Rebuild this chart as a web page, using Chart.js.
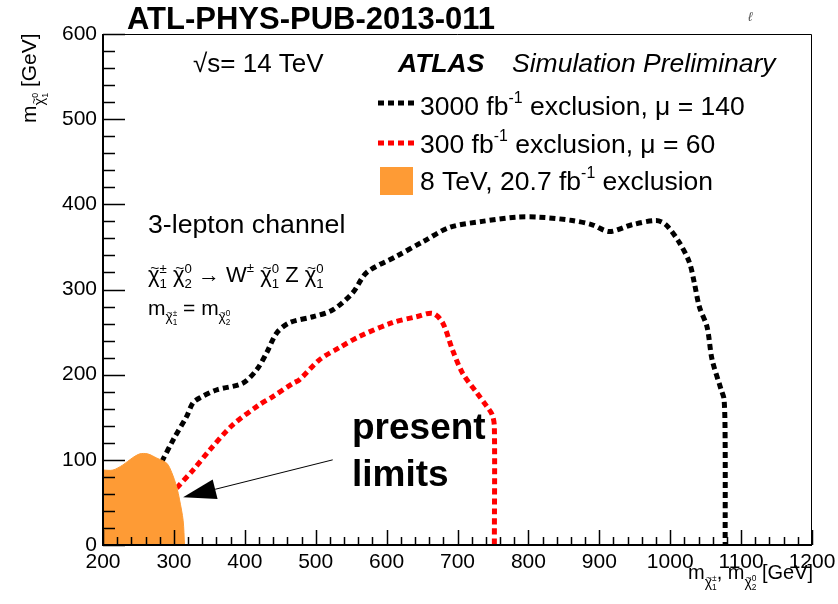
<!DOCTYPE html>
<html>
<head>
<meta charset="utf-8">
<script src="https://cdn.jsdelivr.net/npm/chart.js@4.4.1/dist/chart.umd.min.js"></script>
<style>
  body { margin: 0; background: #fff; }
  #wrap { width: 838px; height: 604px; }
</style>
</head>
<body>
<div id="wrap"><canvas id="limits" width="838" height="604"></canvas></div>
<script>
// 3000 fb-1 projected exclusion contour (mu = 140)
const hlX = [283, 300, 318, 327, 337, 360, 397, 417, 431, 445, 463, 496, 524, 552, 572, 614, 651, 689, 735, 783, 815, 862, 890, 914, 946, 980, 994, 1013, 1027, 1034, 1041, 1052, 1059, 1072, 1076, 1077.5, 1077.5];
const hlY = [98, 125, 151, 167, 173, 182, 190, 206, 226, 249, 261, 268, 276, 296, 320, 339, 356, 373, 380, 385, 385, 381, 376, 368, 376, 381, 376, 355, 332, 308, 280, 256, 218, 182, 171, 120, 0];

// 300 fb-1 projected exclusion contour (mu = 60)
const lhcX = [304, 327, 351, 383, 421, 439, 468, 477, 506, 534, 562, 608, 642, 665, 679, 693, 707, 727, 742, 749, 752, 752];
const lhcY = [67, 88, 112, 141, 165, 174, 190, 194, 218, 232, 245, 261, 268, 272, 261, 229, 202, 179, 162, 153, 139, 0];

// 8 TeV, 20.7 fb-1 excluded region
const runX = [200, 214, 228, 241, 252, 263, 276, 290, 297, 304, 308, 313, 315];
const runY = [88, 88, 94, 102, 107, 107, 102, 96, 85, 68, 53, 29, 0];

const xTicks = [200, 300, 400, 500, 600, 700, 800, 900, 1000, 1100, 1200];
const yTicks = [0, 100, 200, 300, 400, 500, 600];

const FAM = '"Liberation Sans", Arial, Helvetica, sans-serif';
const ORANGE = '#fe9b35';

function pts(xs, ys) {
    return xs.map((x, i) => ({ x: x, y: ys[i] }));
}

// draws a run of text pieces; a piece with keep:true does not advance x,
// so the next piece is stacked on top of / under it (sup + sub)
function drawRich(ctx, x, y, parts, size, weight) {
    let pending = 0;
    ctx.textAlign = 'left';
    ctx.textBaseline = 'alphabetic';
    parts.forEach(p => {
        if (typeof p === 'string') p = { t: p };
        const sz = size * (p.s || 1);
        const yy = y + (p.dy || 0) * size;
        ctx.font = (p.w || weight || '') + ' ' + sz + 'px ' + FAM;
        const w = ctx.measureText(p.t).width;
        ctx.fillText(p.t, x, yy);
        if (p.tilde) {
            ctx.font = (sz * 0.7) + 'px ' + FAM;
            const tw = ctx.measureText('~').width;
            ctx.fillText('~', x + (w - tw) / 2 + sz * 0.04, yy - sz * 0.42);
        }
        if (p.keep) {
            pending = w;
        } else {
            x += Math.max(w, pending);
            pending = 0;
        }
    });
    return x;
}

// chi-tilde with an upper and a lower index, at relative size s and offset dy
function chi(sup, sub, s, dy) {
    s = s || 1; dy = dy || 0;
    return [
        { t: 'χ', s: s, dy: dy, tilde: true },
        { t: sup, s: s * 0.6, dy: dy - s * 0.42, keep: true },
        { t: sub, s: s * 0.6, dy: dy + s * 0.25 }
    ];
}

function dashLine(ctx, x1, y1, x2, y2, color) {
    ctx.save();
    ctx.strokeStyle = color;
    ctx.lineWidth = 5;
    ctx.setLineDash([6, 4]);
    ctx.beginPath();
    ctx.moveTo(x1, y1);
    ctx.lineTo(x2, y2);
    ctx.stroke();
    ctx.restore();
}

const framePlugin = {
    id: 'frame',
    afterDraw(chart) {
        const ctx = chart.ctx;
        const a = chart.chartArea;
        const xs = chart.scales.x, ys = chart.scales.y;
        ctx.save();
        ctx.strokeStyle = '#000';

        // frame, left and bottom a bit heavier
        ctx.lineWidth = 1;
        ctx.beginPath();
        ctx.moveTo(a.left, a.top + 0.5);
        ctx.lineTo(a.right - 0.5, a.top + 0.5);
        ctx.lineTo(a.right - 0.5, a.bottom);
        ctx.stroke();
        ctx.lineWidth = 2;
        ctx.beginPath();
        ctx.moveTo(a.left, a.top);
        ctx.lineTo(a.left, a.bottom);
        ctx.lineTo(a.right, a.bottom);
        ctx.stroke();

        // inward ticks, minor every 20 GeV
        ctx.lineWidth = 1.5;
        ctx.beginPath();
        for (let v = 200; v <= 1200; v += 20) {
            const px = Math.round(xs.getPixelForValue(v)) + 0.5;
            const len = (v % 100 === 0) ? 15 : 8;
            ctx.moveTo(px, a.bottom);
            ctx.lineTo(px, a.bottom - len);
        }
        for (let v = 0; v <= 600; v += 20) {
            const py = Math.round(ys.getPixelForValue(v)) + 0.5;
            const len = (v % 100 === 0) ? 22 : 12;
            ctx.moveTo(a.left, py);
            ctx.lineTo(a.left + len, py);
        }
        ctx.stroke();

        ctx.fillStyle = '#000';

        // title and header
        ctx.font = 'bold 31px ' + FAM;
        ctx.textAlign = 'left';
        ctx.textBaseline = 'alphabetic';
        ctx.fillText('ATL-PHYS-PUB-2013-011', 127, 29);

        drawRich(ctx, 193, 72, ['√s= 14 TeV'], 26);
        ctx.font = 'italic bold 26.5px ' + FAM;
        ctx.fillText('ATLAS', 398, 72);
        ctx.font = 'italic 26.5px ' + FAM;
        ctx.fillText('Simulation Preliminary', 512, 72);

        ctx.fillStyle = '#555';
        ctx.font = 'italic 13px ' + FAM;
        ctx.fillText('ℓ', 748, 21);
        ctx.fillStyle = '#000';

        // legend
        dashLine(ctx, 378, 103, 414, 103, '#000');
        drawRich(ctx, 420, 115, ['3000 fb', { t: '-1', s: 0.6, dy: -0.45 }, ' exclusion, μ = 140'], 26.5);
        dashLine(ctx, 378, 143, 414, 143, '#ff0000');
        drawRich(ctx, 420, 153, ['300 fb', { t: '-1', s: 0.6, dy: -0.45 }, ' exclusion, μ = 60'], 26.5);
        ctx.fillStyle = ORANGE;
        ctx.fillRect(380, 167, 33, 28);
        ctx.fillStyle = '#000';
        drawRich(ctx, 420, 190, ['8 TeV, 20.7 fb', { t: '-1', s: 0.6, dy: -0.45 }, ' exclusion'], 26.5);

        // channel description
        drawRich(ctx, 148, 233, ['3-lepton channel'], 26.7);
        drawRich(ctx, 148, 282, [].concat(
            chi('±', '1'), [' '], chi('0', '2'), [' → W', { t: '±', s: 0.6, dy: -0.45 }, ' '],
            chi('0', '1'), [' Z '], chi('0', '1')), 22);
        drawRich(ctx, 148, 315, [].concat(
            ['m'], chi('±', '1', 0.65, 0.3), [' = m'], chi('0', '2', 0.65, 0.3)), 21);

        // present limits annotation
        ctx.font = 'bold 37px ' + FAM;
        ctx.fillText('present', 352, 439);
        ctx.fillText('limits', 352, 486);

        const tx = xs.getPixelForValue(524), ty = ys.getPixelForValue(100);
        const hx = xs.getPixelForValue(313), hy = ys.getPixelForValue(56);
        const dx = hx - tx, dy = hy - ty, L = Math.hypot(dx, dy);
        const ux = dx / L, uy = dy / L;
        const bx = hx - 33 * ux, by = hy - 33 * uy;
        ctx.lineWidth = 1;
        ctx.beginPath();
        ctx.moveTo(tx, ty);
        ctx.lineTo(bx, by);
        ctx.stroke();
        ctx.beginPath();
        ctx.moveTo(hx, hy);
        ctx.lineTo(bx - 10 * uy, by + 10 * ux);
        ctx.lineTo(bx + 10 * uy, by - 10 * ux);
        ctx.closePath();
        ctx.fill();

        // axis titles
        drawRich(ctx, 688, 579, [].concat(
            ['m'], chi('±', '1', 0.7, 0.38), [', m'], chi('0', '2', 0.7, 0.38), [' [GeV]']), 20);
        ctx.translate(36, 123);
        ctx.rotate(-Math.PI / 2);
        drawRich(ctx, 0, 0, [].concat(['m'], chi('0', '1', 0.7, 0.38), [' [GeV]']), 21);

        ctx.restore();
    }
};

new Chart(document.getElementById('limits'), {
    type: 'scatter',
    data: {
        datasets: [
            {
                label: '8 TeV, 20.7 fb-1 exclusion',
                data: pts(runX, runY),
                showLine: true,
                fill: 'origin',
                backgroundColor: ORANGE,
                borderColor: ORANGE,
                borderWidth: 1,
                pointRadius: 0,
                tension: 0.3,
                order: 0
            },
            {
                label: '3000 fb-1 exclusion, mu = 140',
                data: pts(hlX, hlY),
                showLine: true,
                borderColor: '#000',
                borderWidth: 5,
                borderDash: [6, 4],
                pointRadius: 0,
                tension: 0.3,
                order: 1
            },
            {
                label: '300 fb-1 exclusion, mu = 60',
                data: pts(lhcX, lhcY),
                showLine: true,
                borderColor: '#ff0000',
                borderWidth: 5,
                borderDash: [6, 4],
                pointRadius: 0,
                tension: 0.3,
                order: 2
            }
        ]
    },
    options: {
        responsive: false,
        animation: false,
        layout: { padding: { left: 0, top: 34, right: 26, bottom: 0 } },
        plugins: { legend: { display: false }, tooltip: { enabled: false } },
        scales: {
            x: {
                type: 'linear',
                min: 200,
                max: 1200,
                afterBuildTicks: s => { s.ticks = xTicks.map(v => ({ value: v })); },
                afterFit: s => { s.height = 59; s.paddingLeft = 0; s.paddingRight = 0; },
                grid: { display: false, drawTicks: false },
                border: { display: false },
                ticks: {
                    color: '#000', padding: 5, maxRotation: 0, autoSkip: false,
                    font: { family: FAM, size: 21 },
                    callback: v => String(v)
                }
            },
            y: {
                type: 'linear',
                min: 0,
                max: 600,
                afterBuildTicks: s => { s.ticks = yTicks.map(v => ({ value: v })); },
                afterFit: s => { s.width = 103; s.paddingTop = 0; s.paddingBottom = 0; },
                grid: { display: false, drawTicks: false },
                border: { display: false },
                ticks: {
                    color: '#000', padding: 6,
                    font: { family: FAM, size: 21 },
                    callback: v => String(v)
                }
            }
        }
    },
    plugins: [framePlugin]
});
</script>
</body>
</html>
